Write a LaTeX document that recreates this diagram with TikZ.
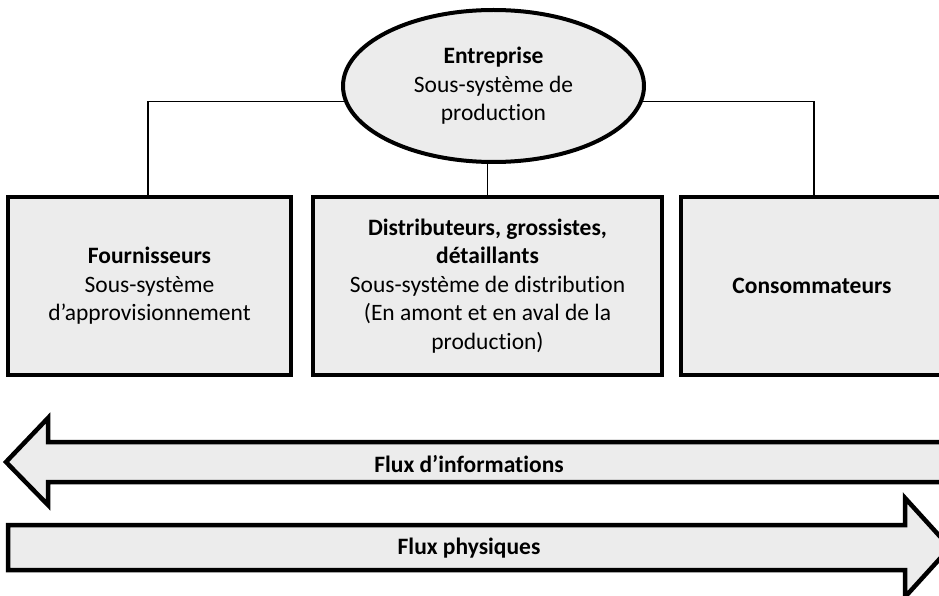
\documentclass[tikz,border=0pt]{standalone}
\usepackage{fontspec}
\setmainfont{Carlito}[Ligatures=NoCommon]
\usepackage{tikz}
\usetikzlibrary{shapes.geometric, positioning}

\begin{document}
\begin{tikzpicture}[x=1pt, y=-1pt]
\tikzstyle{box} = [rectangle, draw, line width=4.5pt, fill=gray!15, align=center, minimum height=178pt, inner sep=0pt, font=\fontsize{23.5}{28.5}\selectfont]
\tikzstyle{hub} = [ellipse, draw, line width=4pt, fill=gray!15, align=center, minimum width=301pt, minimum height=152pt, inner sep=0pt, font=\fontsize{23.5}{28.5}\selectfont]
\tikzstyle{link} = [line width=1.2pt]
\tikzstyle{flux} = [line width=4.5pt, fill=gray!15, line join=miter]
\tikzstyle{label} = [font=\fontsize{23.5}{28.5}\selectfont\bfseries]

\clip (0,0) rectangle (939,596);

\node (ent) [hub] at (493.5,86) {\textbf{Entreprise}\\Sous-système de\\production};

\node (four) [box, minimum width=283pt] at (149.5,286) {\textbf{Fournisseurs}\\Sous-système\\d’approvisionnement};
\node (dist) [box, minimum width=349pt] at (487.5,286) {\textbf{Distributeurs, grossistes,}\\\textbf{détaillants}\\Sous-système de distribution\\(En amont et en aval de la\\production)};
\node (cons) [box, minimum width=262pt] at (812,286) {\textbf{Consommateurs}};

\draw [link] ([xshift=-1.5pt]four.north) |- (ent.186.2);
\draw [link] ([xshift=2pt]cons.north) |- (ent.-6.2);
\draw [link] (dist.north) -- (dist.north |- ent.south);

% flux
\draw [flux] (6,462) -- (48,418) -- (48,442) -- (955,442) -- (955,482) -- (48,482) -- (48,505) -- cycle;
\node (info) [label] at (469,464) {Flux d’informations};

\draw [flux] (8,525) -- (905,525) -- (905,498) -- (950,547.5) -- (905,597) -- (905,570) -- (8,570) -- cycle;
\node (phys) [label] at (469,548) {Flux physiques};

\end{tikzpicture}
\end{document}
